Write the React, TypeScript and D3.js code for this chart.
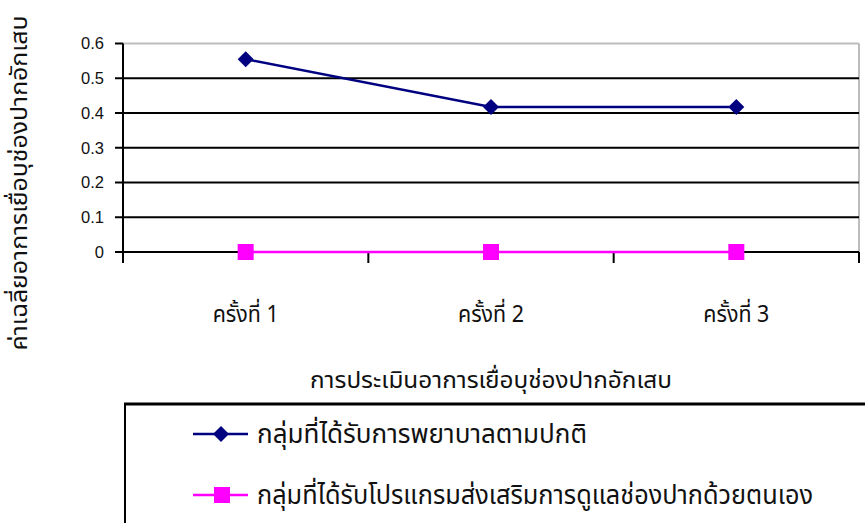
import React from "react";
import * as d3 from "d3";

// Assessment rounds (x categories)
const rounds = ["ครั้งที่ 1", "ครั้งที่ 2", "ครั้งที่ 3"];
// Mean oral mucositis score per group
const usualCare = [0.555, 0.417, 0.417];
const selfCareProgram = [0, 0, 0];
const seriesNames = [
  "กลุ่มที่ได้รับการพยาบาลตามปกติ",
  "กลุ่มที่ได้รับโปรแกรมส่งเสริมการดูแลช่องปากด้วยตนเอง",
];
const yTicks = [0, 0.1, 0.2, 0.3, 0.4, 0.5, 0.6];
const xTitle = "การประเมินอาการเยื่อบุช่องปากอักเสบ";
const yTitle = "ค่าเฉลี่ยอาการเยื่อบุช่องปากอักเสบ";

const W = 865;
const H = 523;
const left = 123;
const right = 859;
const top = 43.5;
const bottom = 252;

const thaiFont = "'Noto Sans Thai', 'Noto Sans', 'DejaVu Sans', sans-serif";
const numFont = "'Liberation Sans', Arial, sans-serif";

export default function App() {
  const x = d3.scaleBand<string>().domain(rounds).range([left, right]);
  const y = d3.scaleLinear().domain([0, 0.6]).range([bottom, top]);
  const cx = (c: string) => (x(c) as number) + x.bandwidth() / 2;

  const line = d3
    .line<number>()
    .x((_, i) => cx(rounds[i]))
    .y((v) => y(v));

  const diamond = (px: number, py: number, r = 8) =>
    `M${px},${py - r}L${px + r},${py}L${px},${py + r}L${px - r},${py}Z`;

  const boundaries = [left, ...rounds.map((c) => (x(c) as number) + x.bandwidth())];

  const legendY = [434, 495];

  return (
    <svg
      width={W}
      height={H}
      style={{ position: "absolute", left: 0, top: 0, background: "#fff" }}
    >
      {/* plot border (top and right) */}
      <line x1={left} x2={right} y1={y(0.6)} y2={y(0.6)} stroke="#bdbdbd" strokeWidth={2} />
      <line x1={right} x2={right} y1={y(0.6)} y2={bottom} stroke="#bdbdbd" strokeWidth={2} />

      {/* horizontal gridlines */}
      {yTicks
        .filter((t) => t > 0 && t < 0.6)
        .map((t) => (
          <line key={t} x1={left} x2={right} y1={y(t)} y2={y(t)} stroke="#000" strokeWidth={2} />
        ))}

      {/* y axis */}
      <line x1={left} x2={left} y1={y(0.6)} y2={bottom + 11} stroke="#000" strokeWidth={2} />
      {yTicks.map((t) => (
        <g key={t}>
          <line x1={left - 8} x2={left} y1={y(t)} y2={y(t)} stroke="#000" strokeWidth={2} />
          <text
            x={104}
            y={y(t)}
            dy="0.36em"
            textAnchor="end"
            fontFamily={numFont}
            fontSize={16.5}
            fill="#111"
          >
            {t === 0 ? "0" : t.toFixed(1)}
          </text>
        </g>
      ))}

      {/* x axis */}
      <line x1={left} x2={right} y1={bottom} y2={bottom} stroke="#000" strokeWidth={2} />
      {boundaries.map((b, i) => (
        <line key={i} x1={b} x2={b} y1={bottom} y2={bottom + 11} stroke="#000" strokeWidth={2} />
      ))}
      {rounds.map((c) => (
        <text
          key={c}
          x={cx(c)}
          y={314}
          dy="0.35em"
          textAnchor="middle"
          fontFamily={thaiFont}
          fontSize={23}
          textLength={66}
          lengthAdjust="spacingAndGlyphs"
          fill="#111"
        >
          {c}
        </text>
      ))}

      {/* series: self-care program */}
      <path d={line(selfCareProgram) || ""} fill="none" stroke="#ff00ff" strokeWidth={2.5} />
      {selfCareProgram.map((v, i) => (
        <rect key={i} x={cx(rounds[i]) - 8} y={y(v) - 8} width={16} height={16} fill="#ff00ff" />
      ))}

      {/* series: usual care */}
      <path d={line(usualCare) || ""} fill="none" stroke="#000080" strokeWidth={2.5} />
      {usualCare.map((v, i) => (
        <path key={i} d={diamond(cx(rounds[i]), y(v))} fill="#000080" />
      ))}

      {/* axis titles */}
      <text
        x={491}
        y={380}
        dy="0.35em"
        textAnchor="middle"
        fontFamily={thaiFont}
        fontSize={23}
        textLength={362}
        lengthAdjust="spacingAndGlyphs"
        fill="#111"
      >
        {xTitle}
      </text>
      <text
        transform={`translate(19,183) rotate(-90)`}
        dy="0.35em"
        textAnchor="middle"
        fontFamily={thaiFont}
        fontSize={23}
        textLength={335}
        lengthAdjust="spacingAndGlyphs"
        fill="#111"
      >
        {yTitle}
      </text>

      {/* legend box */}
      <line x1={124} x2={W} y1={404} y2={404} stroke="#000" strokeWidth={3} />
      <line x1={125} x2={125} y1={403} y2={H} stroke="#000" strokeWidth={2} />

      <line x1={193} x2={248} y1={legendY[0]} y2={legendY[0]} stroke="#000080" strokeWidth={2.5} />
      <path d={diamond(221, legendY[0])} fill="#000080" />
      <text
        x={257}
        y={legendY[0]}
        dy="0.35em"
        fontFamily={thaiFont}
        fontSize={26}
        textLength={330}
        lengthAdjust="spacingAndGlyphs"
        fill="#111"
      >
        {seriesNames[0]}
      </text>

      <line x1={193} x2={248} y1={legendY[1]} y2={legendY[1]} stroke="#ff00ff" strokeWidth={2.5} />
      <rect x={214} y={legendY[1] - 8} width={16} height={16} fill="#ff00ff" />
      <text
        x={257}
        y={legendY[1]}
        dy="0.35em"
        fontFamily={thaiFont}
        fontSize={26}
        textLength={556}
        lengthAdjust="spacingAndGlyphs"
        fill="#111"
      >
        {seriesNames[1]}
      </text>
    </svg>
  );
}
